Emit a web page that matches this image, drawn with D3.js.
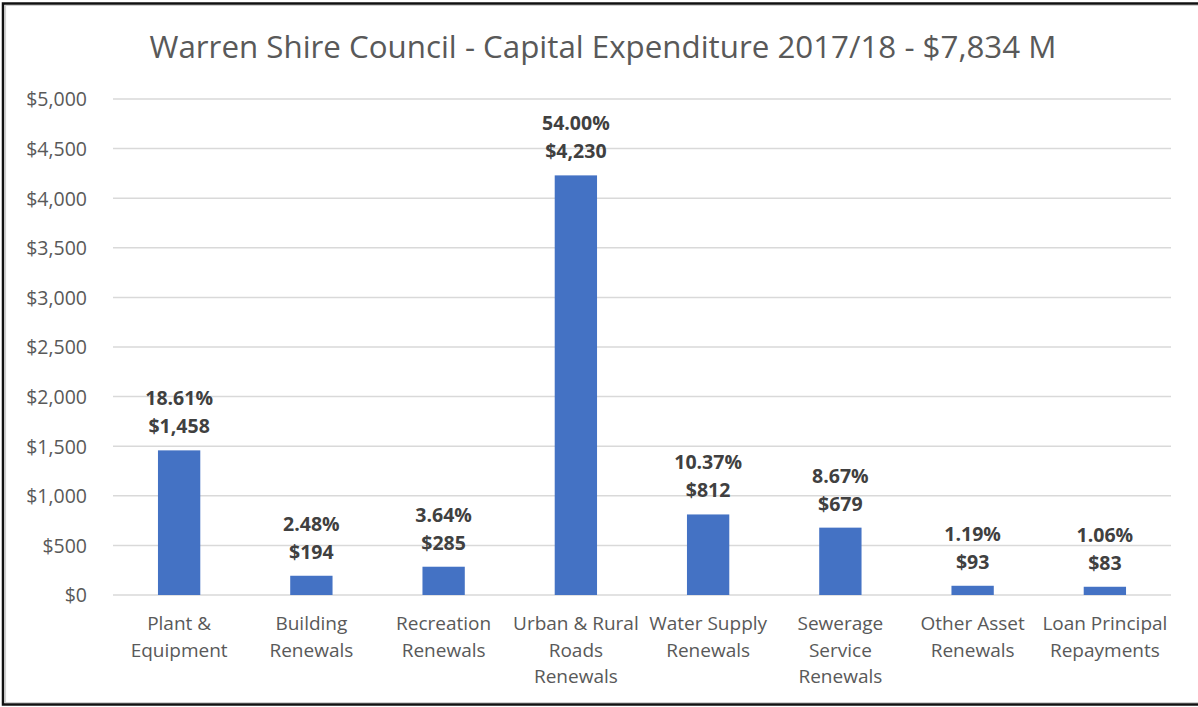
<!DOCTYPE html>
<html><head><meta charset="utf-8">
<script src="https://cdn.jsdelivr.net/npm/d3@7"></script>
<style>
body{margin:0;background:#fff;}
svg{display:block;}
text{font-family:"Open Sans","Noto Sans",sans-serif;}
</style></head><body>
<svg id="chart" width="1198" height="707"></svg>
<script>
const categories = [
  ["Plant &","Equipment"],
  ["Building","Renewals"],
  ["Recreation","Renewals"],
  ["Urban & Rural","Roads","Renewals"],
  ["Water Supply","Renewals"],
  ["Sewerage","Service","Renewals"],
  ["Other Asset","Renewals"],
  ["Loan Principal","Repayments"]
];
const values = [1458, 194, 285, 4230, 812, 679, 93, 83];
const percents = ["18.61%","2.48%","3.64%","54.00%","10.37%","8.67%","1.19%","1.06%"];
const valueLabels = ["$1,458","$194","$285","$4,230","$812","$679","$93","$83"];
const yTicks = [0,500,1000,1500,2000,2500,3000,3500,4000,4500,5000];
const title = "Warren Shire Council - Capital Expenditure 2017/18 - $7,834 M";

const svg = d3.select("#chart");
// frame (top, left, bottom; open on the right)
const frame = svg.append("g");
frame.append("path").attr("d","M1198,3.5 H3 V704.5 H1198").attr("fill","none")
  .attr("stroke","#111").attr("stroke-width",2.5);
frame.append("path").attr("d","M1198,5.5 H5.5 V702.5 H1198").attr("fill","none")
  .attr("stroke","#d0d0d0").attr("stroke-width",1.2);

const pLeft = 113, pRight = 1171, pTop = 99, pBottom = 595;
const idx = categories.map((d,i)=>i);
const x = d3.scaleBand().domain(idx).range([pLeft,pRight]).paddingInner(0.68).paddingOuter(0.34);
const y = d3.scaleLinear().domain([0,5000]).range([pBottom,pTop]);

svg.append("g").selectAll("line").data(yTicks).join("line")
  .attr("x1",pLeft).attr("x2",pRight)
  .attr("y1",d=>y(d)).attr("y2",d=>y(d))
  .attr("stroke","#d9d9d9").attr("stroke-width",1.5);

const yAxis = d3.axisLeft(y).tickValues(yTicks).tickSize(0).tickPadding(0)
  .tickFormat(d=>"$"+d3.format(",")(d));
const yg = svg.append("g").attr("transform",`translate(87,0)`).call(yAxis);
yg.select(".domain").remove();
yg.selectAll("text").attr("font-size",19.5).attr("fill","#595959")
  .attr("font-family","'Open Sans','Noto Sans',sans-serif").attr("dy","0.35em");

svg.append("g").selectAll("rect").data(values).join("rect")
  .attr("x",(d,i)=>x(i)).attr("width",x.bandwidth())
  .attr("y",d=>y(d)).attr("height",d=>y(0)-y(d))
  .attr("fill","#4472c4");

const lab = svg.append("g").attr("font-weight","bold").attr("font-size",19.5)
  .attr("fill","#404040").attr("text-anchor","middle");
values.forEach((v,i)=>{
  const cx = x(i)+x.bandwidth()/2;
  lab.append("text").attr("x",cx).attr("y",y(v)-45).text(percents[i]);
  lab.append("text").attr("x",cx).attr("y",y(v)-17).text(valueLabels[i]);
});

const xAxis = d3.axisBottom(x).tickSize(0).tickFormat("");
const xg = svg.append("g").attr("transform",`translate(0,${pBottom})`).call(xAxis);
xg.select(".domain").remove();
xg.selectAll(".tick").each(function(i){
  const t = d3.select(this).append("text").attr("fill","#595959").attr("font-size",19)
    .attr("text-anchor","middle").attr("font-family","'Open Sans','Noto Sans',sans-serif");
  categories[i].forEach((line,k)=>{
    t.append("tspan").attr("x",0).attr("y",35+k*26.5).text(line);
  });
});

svg.append("text").attr("x",603).attr("y",58).attr("text-anchor","middle")
  .attr("font-size",31.3).attr("fill","#595959").text(title);
</script>
</body></html>
